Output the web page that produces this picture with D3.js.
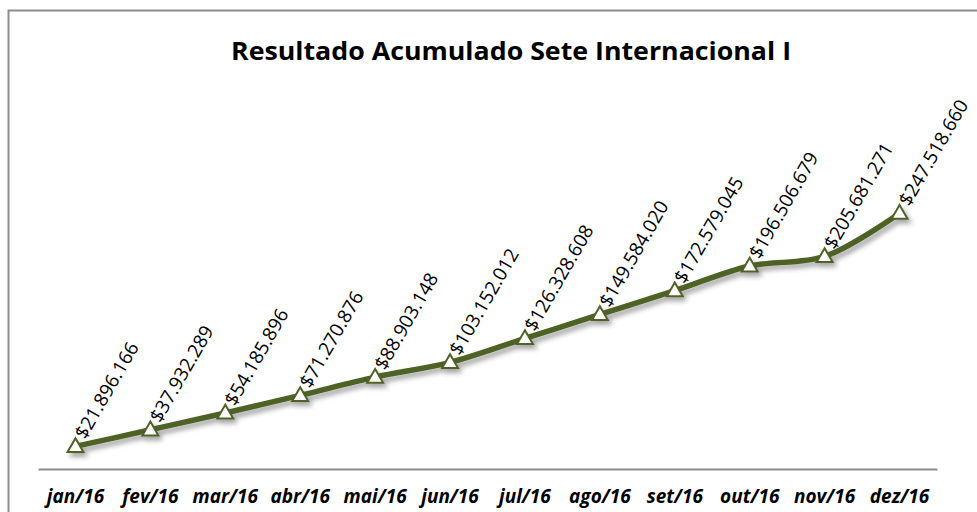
<!DOCTYPE html>
<html>
<head>
<meta charset="utf-8">
<script src="https://cdn.jsdelivr.net/npm/d3@7"></script>
<style>
  body { margin: 0; background: #fff; }
  svg { display: block; }
</style>
</head>
<body>
<div class="chart"></div>
<script>
const months = ['jan/16','fev/16','mar/16','abr/16','mai/16','jun/16','jul/16','ago/16','set/16','out/16','nov/16','dez/16']
const resultado = [21896166, 37932289, 54185896, 71270876, 88903148, 103152012, 126328608, 149584020, 172579045, 196506679, 205681271, 247518660]
const valueLabels = ['$21.896.166','$37.932.289','$54.185.896','$71.270.876','$88.903.148','$103.152.012','$126.328.608','$149.584.020','$172.579.045','$196.506.679','$205.681.271','$247.518.660']
const title = 'Resultado Acumulado Sete Internacional I'

let w = 977,
    h = 512,
    left = 38,
    right = 937,
    bottom = 469

const olive = '#4f6228'
const font = '"Open Sans", sans-serif'

const svg = d3.select('.chart')
              .append('svg')
              .attr('width', w)
              .attr('height', h)

const defs = svg.append('defs')
const shadow = defs.append('filter')
                   .attr('id','shadow')
                   .attr('x','-10%').attr('y','-10%')
                   .attr('width','130%').attr('height','140%')
shadow.append('feDropShadow')
      .attr('dx', 3)
      .attr('dy', 4)
      .attr('stdDeviation', 2.5)
      .attr('flood-color', '#000')
      .attr('flood-opacity', 0.35)

// chart frame
svg.append('rect')
   .attr('x', 8.5)
   .attr('y', 10.5)
   .attr('width', 1000)
   .attr('height', 600)
   .attr('fill', '#fff')
   .attr('stroke', '#8c8c8c')
   .attr('stroke-width', 2)

svg.append('text')
   .attr('x', 511)
   .attr('y', 60)
   .attr('text-anchor', 'middle')
   .attr('textLength', 560)
   .attr('lengthAdjust', 'spacingAndGlyphs')
   .style('font-family', font)
   .style('font-weight', 'bold')
   .style('font-size', '25px')
   .attr('fill', '#000')
   .text(title)

const xScale = d3.scaleBand()
                 .domain(months)
                 .range([left, right])

const yScale = d3.scaleLinear()
                 .domain([0, 300000000])
                 .range([bottom, bottom - 310])

const xAxis = d3.axisBottom(xScale)
                .tickSize(0)
                .tickPadding(21)

const gx = svg.append('g')
              .attr('transform', `translate(0,${bottom})`)
              .call(xAxis)
gx.select('.domain')
  .attr('stroke', '#8c8c8c')
  .attr('stroke-width', 2)
gx.selectAll('text')
  .style('font-family', font)
  .style('font-weight', 'bold')
  .style('font-style', 'italic')
  .style('font-size', '19px')
  .attr('fill', '#000')

const cx = (i) => xScale(months[i]) + xScale.bandwidth() / 2

const line = d3.line()
               .x((d, i) => cx(i))
               .y((d) => yScale(d))
               .curve(d3.curveCatmullRom.alpha(0.5))

const plot = svg.append('g').attr('filter', 'url(#shadow)')

plot.append('path')
    .datum(resultado)
    .attr('d', line)
    .attr('fill', 'none')
    .attr('stroke', olive)
    .attr('stroke-width', 5.5)
    .attr('stroke-linejoin', 'round')

plot.selectAll('path.marker')
    .data(resultado)
    .enter()
    .append('path')
    .attr('class', 'marker')
    .attr('d', d3.symbol().type(d3.symbolTriangle).size(110))
    .attr('transform', (d, i) => `translate(${cx(i)},${yScale(d) + 1})`)
    .attr('fill', '#fff')
    .attr('stroke', olive)
    .attr('stroke-width', 2)

svg.selectAll('text.label')
   .data(resultado)
   .enter()
   .append('text')
   .attr('class', 'label')
   .attr('transform', (d, i) => `translate(${cx(i) + 10},${yScale(d) - 6}) rotate(-60)`)
   .style('font-family', font)
   .style('font-size', '19px')
   .attr('fill', '#000')
   .text((d, i) => valueLabels[i])
</script>
</body>
</html>
